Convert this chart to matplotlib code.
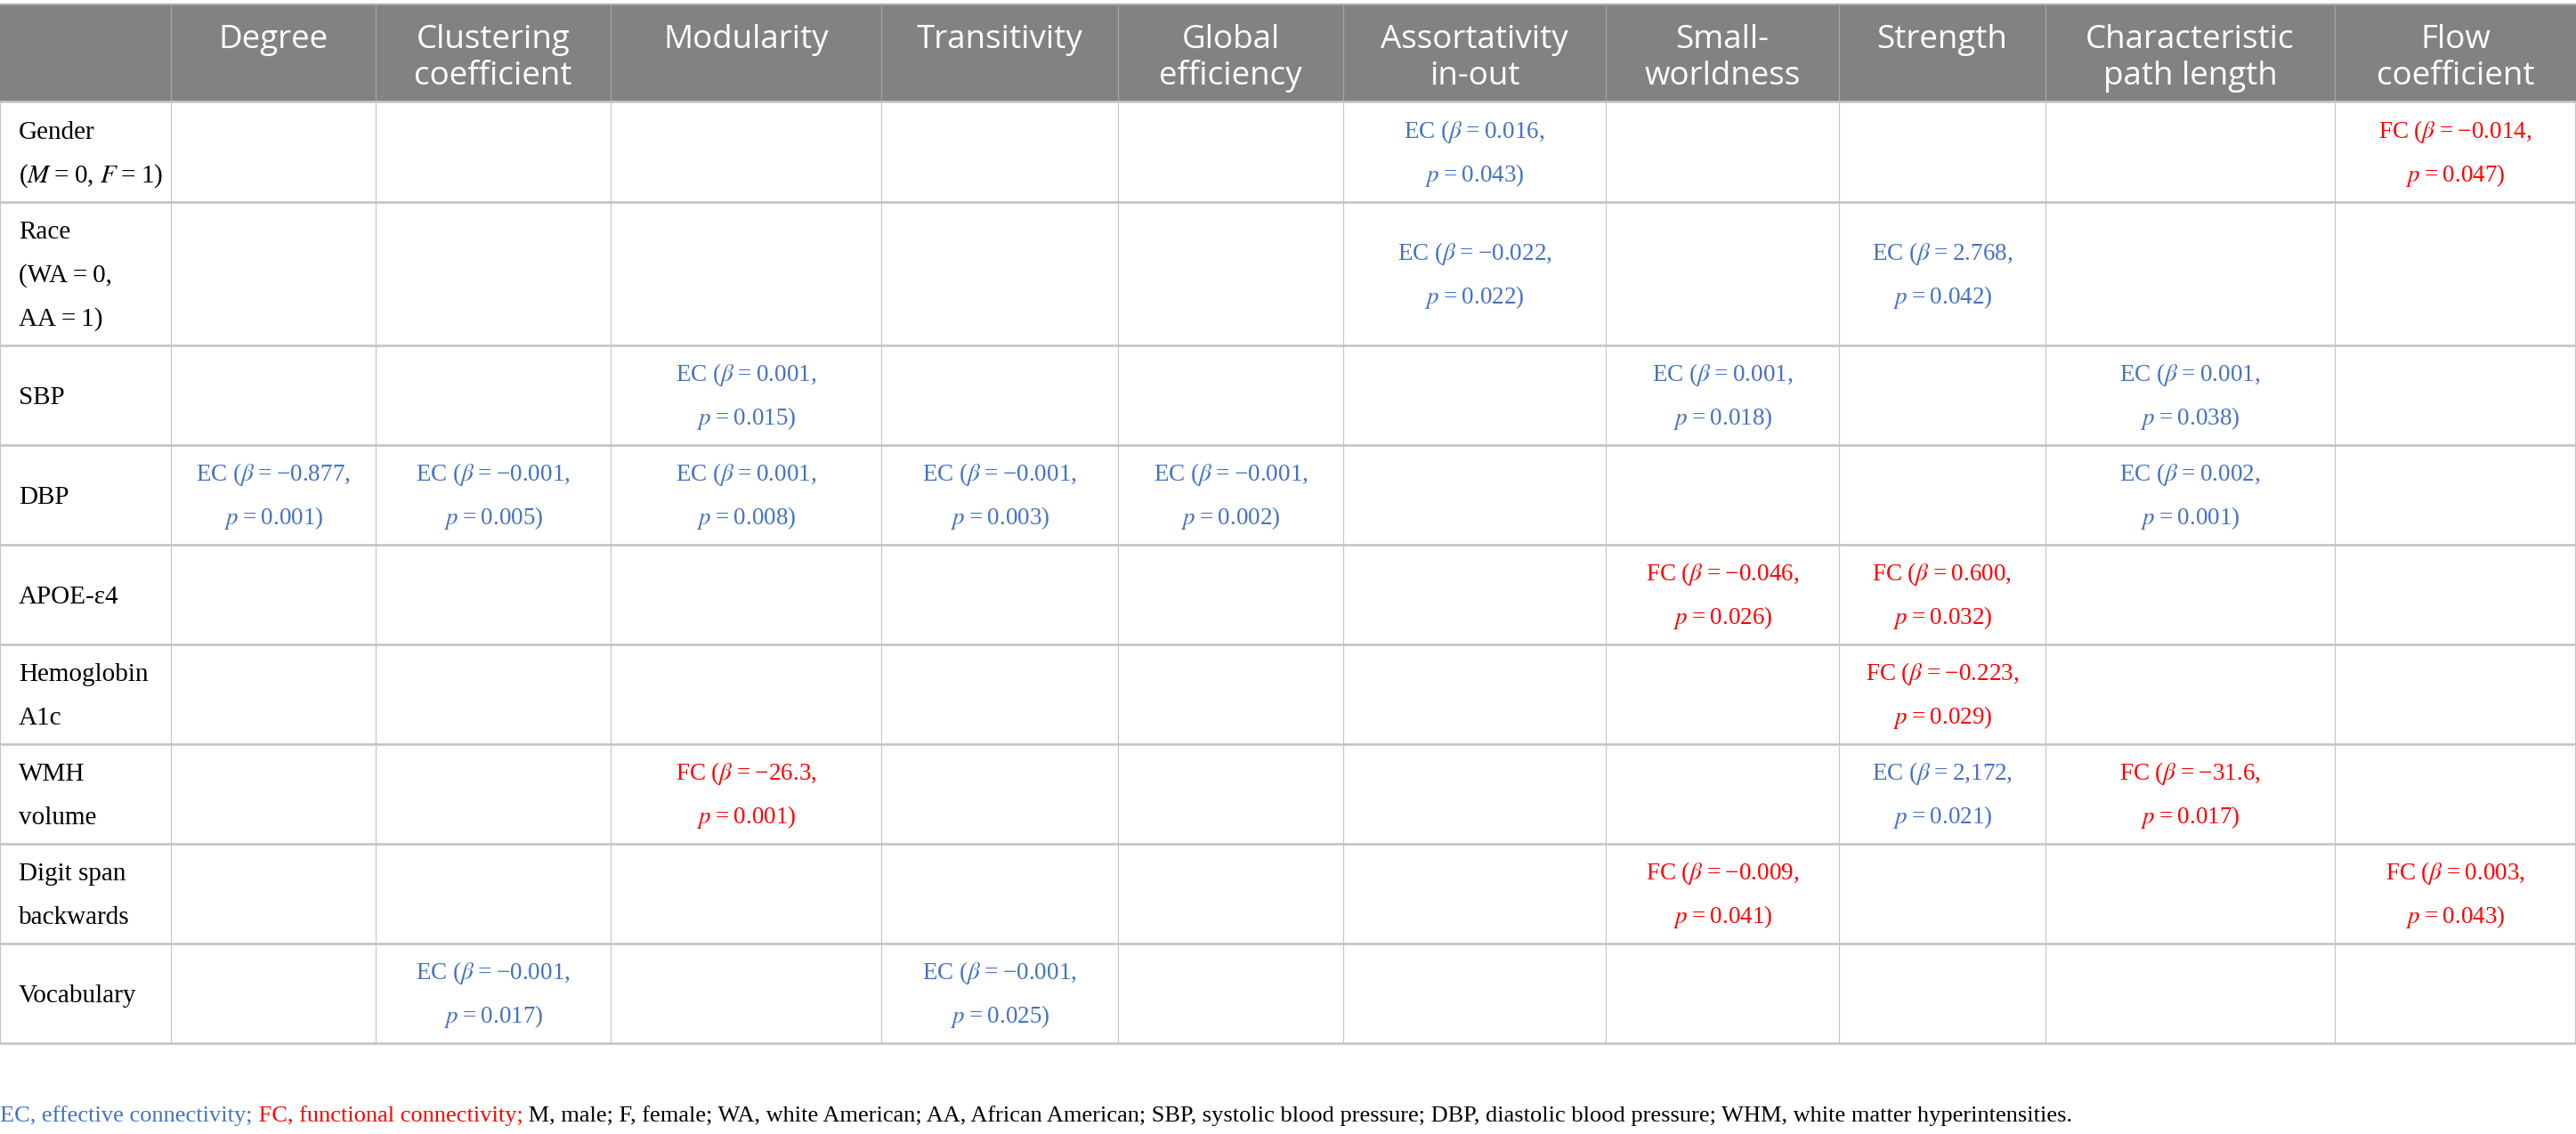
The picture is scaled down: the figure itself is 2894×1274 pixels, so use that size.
import matplotlib
matplotlib.use("Agg")
import matplotlib.pyplot as plt
from matplotlib.patches import Rectangle

plt.rcParams['mathtext.fontset'] = 'stix'

# 表の見出し・行ラベル
columns = ["Degree", "Clustering\ncoefficient", "Modularity", "Transitivity",
           "Global\nefficiency", "Assortativity\nin-out", "Small-\nworldness",
           "Strength", "Characteristic\npath length", "Flow\ncoefficient"]
row_labels = ["Gender\n($M$\u2009=\u20090, $F$\u2009=\u20091)", "Race\n(WA\u2009=\u20090,\nAA\u2009=\u20091)",
              "SBP", "DBP", "APOE-ε4", "Hemoglobin\nA1c", "WMH\nvolume",
              "Digit span\nbackwards", "Vocabulary"]

# 有意な結果 (行, 列, 接続の種類, β, p)
cell_rows = [0, 0, 1, 1, 2, 2, 2, 3, 3, 3, 3, 3, 3, 4, 4, 5, 6, 6, 6, 7, 7, 8, 8]
cell_cols = [5, 9, 5, 7, 2, 6, 8, 0, 1, 2, 3, 4, 8, 6, 7, 7, 2, 7, 8, 6, 9, 1, 3]
cell_conn = ["EC", "FC", "EC", "EC", "EC", "EC", "EC", "EC", "EC", "EC", "EC", "EC",
             "EC", "FC", "FC", "FC", "FC", "EC", "FC", "FC", "FC", "EC", "EC"]
cell_beta = ["0.016", "−0.014", "−0.022", "2.768", "0.001", "0.001", "0.001",
             "−0.877", "−0.001", "0.001", "−0.001", "−0.001", "0.002",
             "−0.046", "0.600", "−0.223", "−26.3", "2,172", "−31.6",
             "−0.009", "0.003", "−0.001", "−0.001"]
cell_p = ["0.043", "0.047", "0.022", "0.042", "0.015", "0.018", "0.038",
          "0.001", "0.005", "0.008", "0.003", "0.002", "0.001",
          "0.026", "0.032", "0.029", "0.001", "0.021", "0.017",
          "0.041", "0.043", "0.017", "0.025"]

footnote_parts = ["EC, effective connectivity;", " FC, functional connectivity;",
                  " M, male; F, female; WA, white American; AA, African American; "
                  "SBP, systolic blood pressure; DBP, diastolic blood pressure; "
                  "WHM, white matter hyperintensities."]

# レイアウト (ピクセル単位)
W, H = 2894, 1274
col_edges = [0, 192, 422, 686, 990, 1256, 1509, 1804, 2066, 2298, 2623, 2894]
header_top, header_bottom = 5, 114
row_heights = [113, 161, 112, 112, 112, 112, 112, 112, 112]

conn_colors = {"EC": "#4472c4", "FC": "#ff0000"}
header_gray = "#818281"
grid_gray = "#c4c4c4"
serif = ["Liberation Serif", "DejaVu Serif"]
sans = ["Open Sans", "DejaVu Sans"]
label_size = 21
cell_size = 19.5
header_size = 26.5
foot_size = 19
pitch = 49

row_edges = [header_bottom]
for h in row_heights:
    row_edges.append(row_edges[-1] + h)

fig = plt.figure(figsize=(W / 100, H / 100), dpi=100)
ax = fig.add_axes([0, 0, 1, 1])
ax.set_xlim(0, W)
ax.set_ylim(H, 0)
ax.axis('off')


def draw_lines(x, cy, text, ha, color, family, size, step):
    lines = text.split("\n")
    em = size * 100 / 72
    first = cy - (len(lines) - 1) / 2 * step + 0.33 * em
    for i, line in enumerate(lines):
        ax.text(x, first + i * step, line, ha=ha, va='baseline', color=color,
                family=family, fontsize=size)


# ヘッダー
ax.add_patch(Rectangle((0, header_top), W, header_bottom - header_top,
                       facecolor=header_gray, edgecolor='none'))
ax.plot([0, W], [header_top, header_top], color="#a9a9a9", lw=1.5)
for j, name in enumerate(columns):
    cx = (col_edges[j + 1] + col_edges[j + 2]) / 2
    for k, line in enumerate(name.split("\n")):
        ax.text(cx, 54 + k * 41, line, ha='center', va='baseline', color='white',
                family=sans, fontsize=header_size)
for x in col_edges[1:-1]:
    ax.plot([x, x], [header_top, header_bottom], color="#a5a5a5", lw=0.9)

# 罫線
for y in row_edges:
    ax.plot([0, W], [y, y], color=grid_gray, lw=1.9)
for x in col_edges[:-1] + [W - 1]:
    ax.plot([x, x], [header_bottom, row_edges[-1]], color=grid_gray, lw=0.8)

# 行ラベル
for i, label in enumerate(row_labels):
    cy = (row_edges[i] + row_edges[i + 1]) / 2
    draw_lines(21, cy, label, 'left', 'black', serif, label_size, pitch)

# セルの値
for r, c, conn, b, p in zip(cell_rows, cell_cols, cell_conn, cell_beta, cell_p):
    cx = (col_edges[c + 1] + col_edges[c + 2]) / 2
    cy = (row_edges[r] + row_edges[r + 1]) / 2
    txt = f"{conn} ($\\beta$\u2009=\u2009{b},\n$p$\u2009=\u2009{p})"
    draw_lines(cx, cy, txt, 'center', conn_colors[conn], serif, cell_size, pitch)

# 脚注 (色分け)
fig.canvas.draw()
renderer = fig.canvas.get_renderer()
x0 = 0
foot_colors = [conn_colors["EC"], conn_colors["FC"], 'black']
for part, col in zip(footnote_parts, foot_colors):
    t = ax.text(x0, 1260, part, ha='left', va='baseline', color=col,
                family=serif, fontsize=foot_size)
    bb = t.get_window_extent(renderer)
    x0 += bb.width

fig.savefig("out.png", dpi=100)
